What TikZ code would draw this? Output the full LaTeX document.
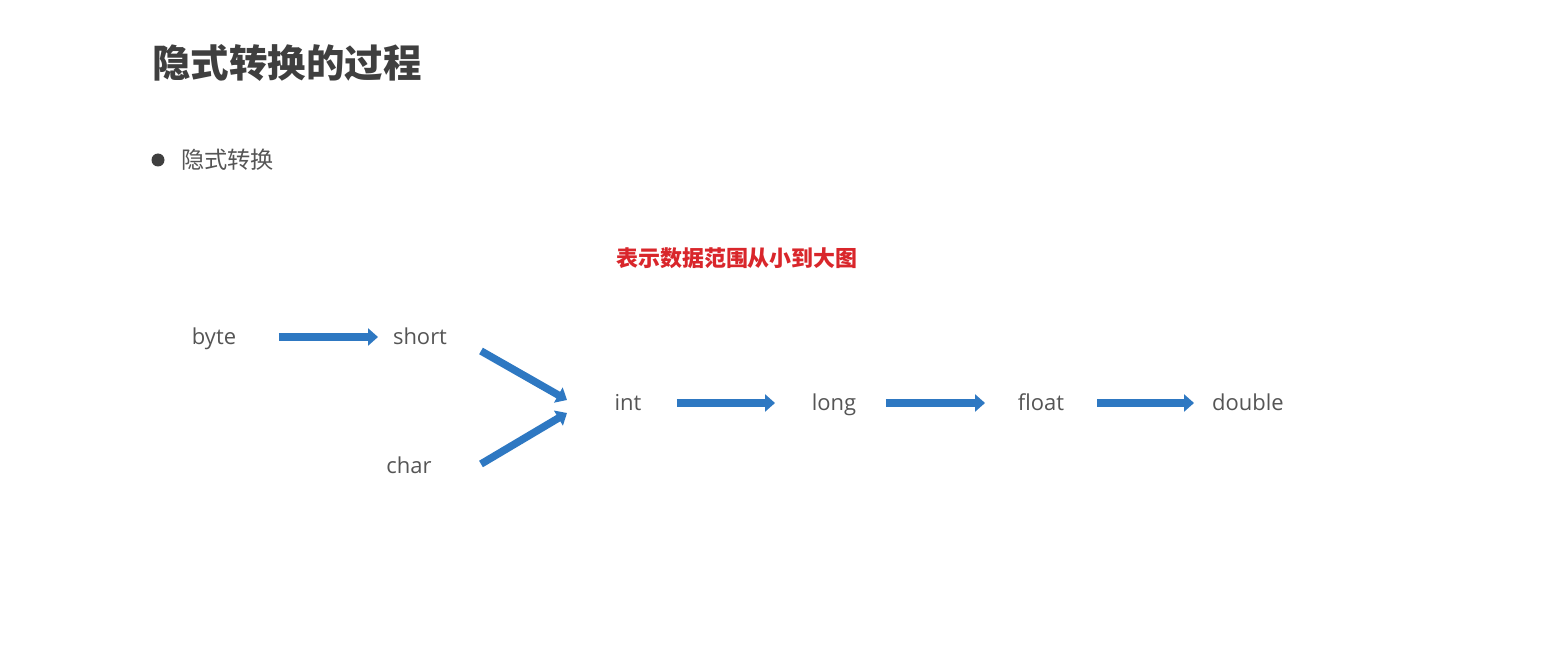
\documentclass[tikz,border=0pt]{standalone}
\usepackage{fontspec}
\setmainfont{Open Sans}
\newfontfamily\cjk{Noto Sans CJK SC}
\usetikzlibrary{arrows.meta}
\definecolor{flowblue}{HTML}{2E78C2}
\definecolor{labelgray}{HTML}{555555}
\definecolor{titlegray}{HTML}{3F3F3F}
\definecolor{notered}{HTML}{D9262B}
\tikzset{flow/.style={line width=0.15cm, flowblue,
  -{Triangle[length=0.2cm,width=0.34cm]}},
  type/.style={text=labelgray, font=\fontsize{12.5}{15}\selectfont, inner sep=0pt,
    text height=0.9em, text depth=0pt}}

\begin{document}
\begin{tikzpicture}[x=0.02cm, y=-0.02cm]
      \useasboundingbox [fill=white] (0, 0) rectangle (1542, 662);

      \node [anchor=west, inner sep=0pt, text=titlegray] (title) at (152, 63)
        {\cjk\bfseries\fontsize{21.9}{26}\selectfont 隐式转换的过程};
      \fill [titlegray] (158, 160) circle [radius=6.5];
      \node [anchor=west, inner sep=0pt, text=labelgray] (item) at (181, 160)
        {\cjk\fontsize{13.2}{16}\selectfont 隐式转换};
      \node [text=notered, inner sep=0pt] (note) at (737, 258)
        {\cjk\bfseries\fontsize{12.5}{15}\selectfont 表示数据范围从小到大图};

      \node [type] (byte) at (214, 337) {byte};
      \node [type] (short) at (420, 337) {short};
      \node [type] (char) at (409, 466) {char};
      \node [type] (int) at (628, 403) {int};
      \node [type] (long) at (834, 403) {long};
      \node [type] (float) at (1041, 403) {float};
      \node [type] (double) at (1248, 403) {double};

      \draw [flow, shorten <=1.3cm, shorten >=0.84cm] (byte.center) -- (short.center);
      \draw [flow] ([shift={(61,14)}]short.center) -- ([shift={(-61,-3)}]int.center);
      \draw [flow] ([shift={(72,-2)}]char.center) -- ([shift={(-61,10)}]int.center);
      \draw [flow, shorten <=0.98cm, shorten >=1.18cm] (int.center) -- (long.center);
      \draw [flow, shorten <=1.04cm, shorten >=1.12cm] (long.center) -- (float.center);
      \draw [flow, shorten <=1.12cm, shorten >=1.08cm] (float.center) -- (double.center);

    \end{tikzpicture}
\end{document}
